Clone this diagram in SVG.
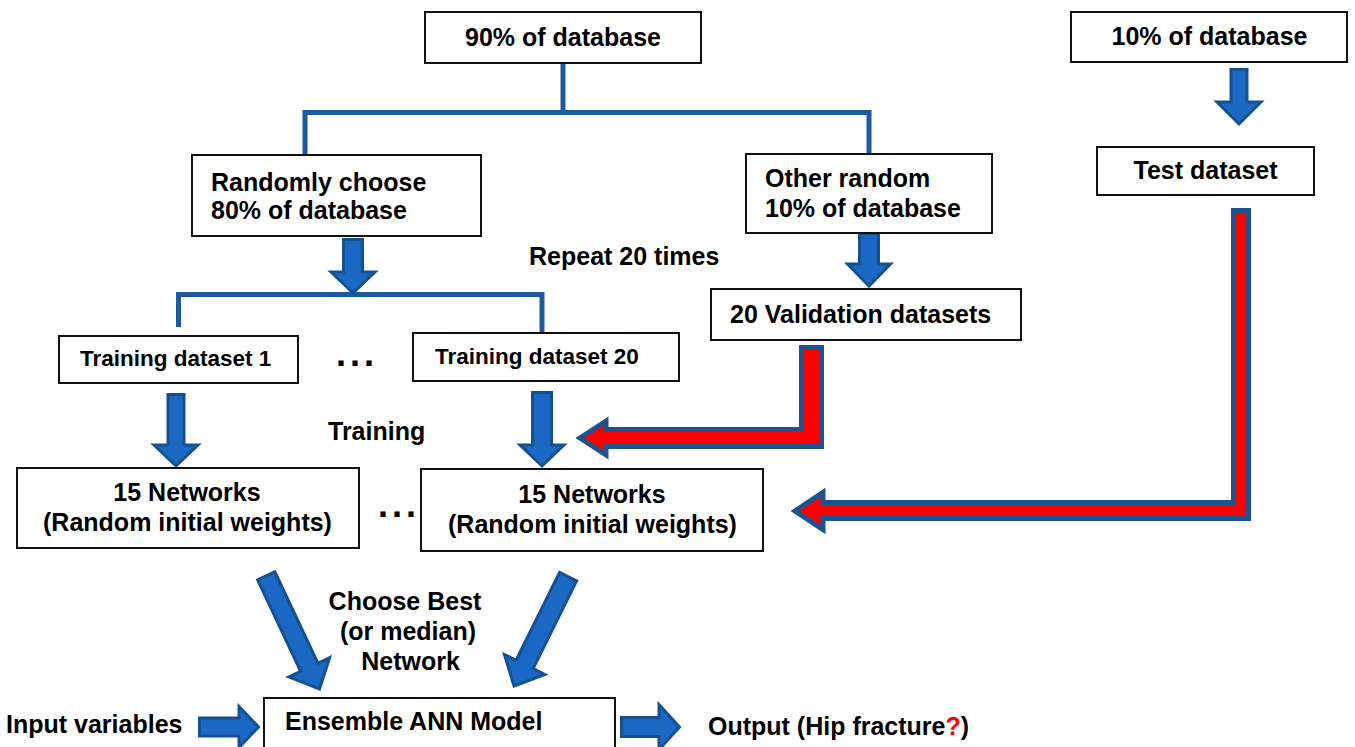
<svg xmlns="http://www.w3.org/2000/svg" width="1355" height="747" viewBox="0 0 1355 747">
  <style>
    .box { fill: #ffffff; stroke: #111111; stroke-width: 2; }
    .t { font-family: "Liberation Sans", Arial, sans-serif; font-weight: bold; font-size: 25px; fill: #000000; }
    .ts { font-size: 22.5px; }
    .mid { text-anchor: middle; }
    .dots { font-family: "Liberation Sans", Arial, sans-serif; font-weight: bold; font-size: 36px; letter-spacing: 4px; fill: #000000; }
    .line { fill: none; stroke: #1c5a9b; stroke-width: 5; stroke-linecap: butt; stroke-linejoin: miter; }
    .blk { fill: #1a68c4; stroke: #155090; stroke-width: 3; stroke-linejoin: miter; }
    .red { fill: #ff0000; stroke: #1d548f; stroke-width: 5; stroke-linejoin: miter; }
  </style>

  <!-- connectors: split lines, block arrows, red feed arrows -->
  <g id="connectors">
    <!-- split of the 90% set -->
    <polyline class="line" points="563,63 563,112.5"/>
    <polyline class="line" points="305,155 305,112.5 869,112.5 869,154"/>
    <!-- split into training sets -->
    <polyline class="line" points="178.5,327 178.5,294.5 542,294.5 542,332"/>

    <polygon class="blk" points="343.5,239.5 362.5,239.5 362.5,272 375,272 353,293 331,272 343.5,272"/>
    <polygon class="blk" points="1231,69.5 1247,69.5 1247,102 1261,102 1239,124 1217,102 1231,102"/>
    <polygon class="blk" points="859.5,233.5 878.5,233.5 878.5,264 890.5,264 869,286 847.5,264 859.5,264"/>
    <polygon class="blk" points="168,394.5 184,394.5 184,445 198,445 176,466 154,445 168,445"/>
    <polygon class="blk" points="532.5,392.5 551.5,392.5 551.5,445 564,445 542,466 520,445 532.5,445"/>

    <!-- diagonal arrows into the ensemble -->
    <polygon class="blk" transform="translate(319.5,689) rotate(-25.2)" points="-9.5,-125 9.5,-125 9.5,-24 22.5,-24 0,0 -22.5,-24 -9.5,-24"/>
    <polygon class="blk" transform="translate(514,686) rotate(26.3)" points="-9.5,-122 9.5,-122 9.5,-24 22.5,-24 0,0 -22.5,-24 -9.5,-24"/>

    <!-- input / output arrows -->
    <polygon class="blk" points="199.5,718 239,718 239,706.5 258.5,727 239,747.5 239,736 199.5,736"/>
    <polygon class="blk" points="621.5,717.5 659,717.5 659,704.5 679.5,727 659,749.5 659,736.5 621.5,736.5"/>

    <!-- validation and test feeds -->
    <polygon class="red" points="801.5,347.5 821.5,347.5 821.5,446.5 606,446.5 606,455 580,438 606,421 606,429.5 801.5,429.5"/>
    <polygon class="red" points="1233.5,210.5 1248.5,210.5 1248.5,518.5 823,518.5 823,529.5 795,511 823,492.5 823,502.5 1233.5,502.5"/>
  </g>

  <g id="db90">
    <rect class="box" x="425" y="12" width="276" height="51"/>
    <text class="t mid" x="563" y="46">90% of database</text>
  </g>

  <g id="db10">
    <rect class="box" x="1071" y="12" width="276" height="50"/>
    <text class="t mid" x="1209.5" y="45">10% of database</text>
  </g>

  <g id="random80">
    <rect class="box" x="192" y="155" width="289" height="81"/>
    <text class="t" x="211" y="191">Randomly choose</text>
    <text class="t" x="211" y="219">80% of database</text>
  </g>

  <g id="random10">
    <rect class="box" x="746" y="154" width="246" height="79"/>
    <text class="t" x="765" y="187">Other random</text>
    <text class="t" x="765" y="217">10% of database</text>
  </g>

  <g id="test">
    <rect class="box" x="1097" y="147" width="217" height="48"/>
    <text class="t mid" x="1205.5" y="179">Test dataset</text>
  </g>

  <g id="repeat-label">
    <text class="t" x="529" y="265">Repeat 20 times</text>
  </g>

  <g id="validation">
    <rect class="box" x="711" y="289" width="310" height="51"/>
    <text class="t" x="730" y="323">20 Validation datasets</text>
  </g>

  <g id="train1">
    <rect class="box" x="59" y="336" width="239" height="47"/>
    <text class="t ts" x="80" y="366">Training dataset 1</text>
  </g>

  <g id="train-dots">
    <text class="dots" x="336" y="366">...</text>
  </g>

  <g id="train20">
    <rect class="box" x="413" y="333" width="266" height="48"/>
    <text class="t ts" x="435" y="364">Training dataset 20</text>
  </g>

  <g id="training-label">
    <text class="t" x="328" y="440">Training</text>
  </g>

  <g id="nets1">
    <rect class="box" x="17" y="468" width="342" height="80"/>
    <text class="t mid" x="187" y="501">15 Networks</text>
    <text class="t mid" x="187.5" y="531">(Random initial weights)</text>
  </g>

  <g id="nets-dots">
    <text class="dots" x="378" y="517">...</text>
  </g>

  <g id="nets20">
    <rect class="box" x="421" y="469" width="342" height="82"/>
    <text class="t mid" x="592" y="503">15 Networks</text>
    <text class="t mid" x="592.5" y="533">(Random initial weights)</text>
  </g>

  <g id="choose-label">
    <text class="t mid" x="405" y="610">Choose Best</text>
    <text class="t mid" x="408" y="640">(or median)</text>
    <text class="t mid" x="410.5" y="670">Network</text>
  </g>

  <g id="input">
    <text class="t" x="6" y="733">Input variables</text>
  </g>

  <g id="ensemble">
    <rect class="box" x="264" y="698" width="351" height="70"/>
    <text class="t" x="285" y="730">Ensemble ANN Model</text>
  </g>

  <g id="output">
    <text class="t" x="708" y="735">Output (Hip fracture<tspan fill="#ff0000">?</tspan>)</text>
  </g>
</svg>
